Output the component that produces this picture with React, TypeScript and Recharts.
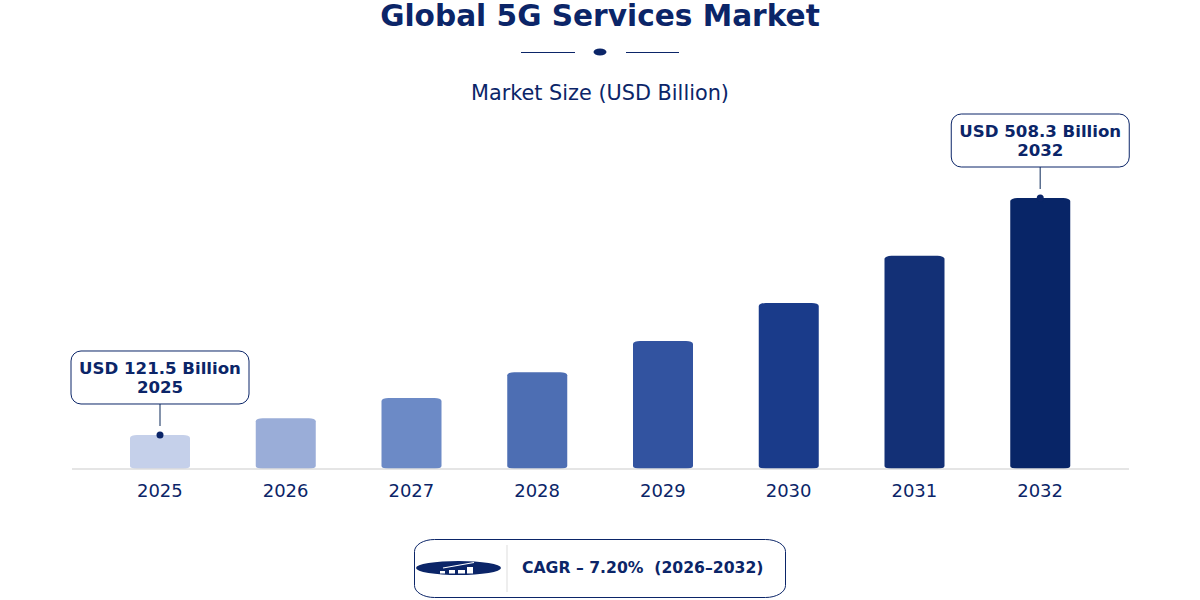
import React from "react";
import { ComposedChart, Bar, XAxis, YAxis, Cell, LabelList } from "recharts";

const years = ["2025", "2026", "2027", "2028", "2029", "2030", "2031", "2032"];
const marketSize = [121.5, 149, 182, 224, 275, 337, 414, 508.3];
const barColors = ["#C5D0EA", "#9AADD8", "#6C8AC6", "#4D6EB3", "#3253A0", "#1A3B8A", "#133076", "#082567"];
const calloutYears = ["2025", "2032"];
const title = "Global 5G Services Market";
const subtitle = "Market Size (USD Billion)";
const cagrText = "CAGR – 7.20%  (2026–2032)";

const NAVY = "#0B2568";
const FONT = "'DejaVu Sans', sans-serif";
const data = years.map((year, i) => ({ year, value: marketSize[i] }));

const RoundedBar = (props: any) => {
  const { x, y, width, height, fill } = props;
  return <rect x={x} y={y} width={width} height={height} rx={7} ry={3} fill={fill} />;
};

const Callout = (props: any) => {
  const { x, y, width, index } = props;
  const year = years[index];
  if (!calloutYears.includes(year)) return null;
  const cx = x + width / 2;
  const boxBottom = y - 31;
  const boxH = 53;
  return (
    <g>
      <line x1={cx} x2={cx} y1={boxBottom} y2={y - 9} stroke="#5C7090" strokeWidth={1.5} />
      <circle cx={cx} cy={y} r={3.5} fill={NAVY} />
      <rect x={cx - 89} y={boxBottom - boxH} width={178} height={boxH} rx={10} fill="#fff" stroke={NAVY} strokeWidth={1} />
      <text x={cx} y={boxBottom - 30} textAnchor="middle" fontFamily={FONT} fontWeight={700} fontSize={16.6} fill={NAVY}>
        {`USD ${marketSize[index]} Billion`}
      </text>
      <text x={cx} y={boxBottom - 11} textAnchor="middle" fontFamily={FONT} fontWeight={700} fontSize={16.6} fill={NAVY}>
        {year}
      </text>
    </g>
  );
};

export default function App() {
  return (
    <div style={{ position: "absolute", left: 0, top: 0, width: 1200, height: 600, background: "#fff" }}>
      <ComposedChart
        width={1200}
        height={600}
        data={data}
        margin={{ top: 198, right: 71, bottom: 91, left: 72 }}
      >
        <XAxis
          dataKey="year"
          padding={{ left: 25, right: 26 }}
          axisLine={{ stroke: "#DDDDDD", strokeWidth: 1.5 }}
          tickLine={false}
          height={40}
          tickMargin={9}
          tick={{ fontFamily: FONT, fontSize: 18, fill: NAVY }}
        />
        <YAxis hide domain={[66, 508.3]} width={0} />
        <Bar dataKey="value" barSize={60} isAnimationActive={false} shape={<RoundedBar />}>
          {data.map((d, i) => (
            <Cell key={d.year} fill={barColors[i]} />
          ))}
          <LabelList dataKey="value" content={<Callout />} />
        </Bar>

        <text x={600} y={26} textAnchor="middle" fontFamily={FONT} fontWeight={700} fontSize={29.6} fill={NAVY}>{title}</text>
        <line x1={521} x2={575} y1={52.5} y2={52.5} stroke={NAVY} strokeWidth={1} />
        <ellipse cx={600} cy={52} rx={6.5} ry={3.5} fill={NAVY} />
        <line x1={626} x2={679} y1={52.5} y2={52.5} stroke={NAVY} strokeWidth={1} />
        <text x={600} y={99.5} textAnchor="middle" fontFamily={FONT} fontSize={20.8} fill={NAVY}>{subtitle}</text>

        <rect x={414.5} y={539.5} width={371} height={58} rx={20} ry={12} fill="#fff" stroke={NAVY} strokeWidth={1} />
        <line x1={507} x2={507} y1={545} y2={592} stroke="#DDDDDD" strokeWidth={1} />
        <ellipse cx={458.5} cy={568} rx={42.5} ry={7} fill={NAVY} />
        <rect x={440} y={571} width={5} height={2.5} fill="#fff" />
        <rect x={449} y={570} width={6} height={3.5} fill="#fff" />
        <rect x={458} y={570} width={7} height={3.5} fill="#fff" />
        <rect x={467} y={567} width={6} height={6.5} fill="#fff" />
        <line x1={443} x2={474} y1={568} y2={562.5} stroke="#fff" strokeWidth={1.2} />
        <text x={522} y={573} fontFamily={FONT} fontWeight={700} fontSize={15.65} fill={NAVY} style={{ whiteSpace: "pre" }}>{cagrText}</text>
      </ComposedChart>
    </div>
  );
}
